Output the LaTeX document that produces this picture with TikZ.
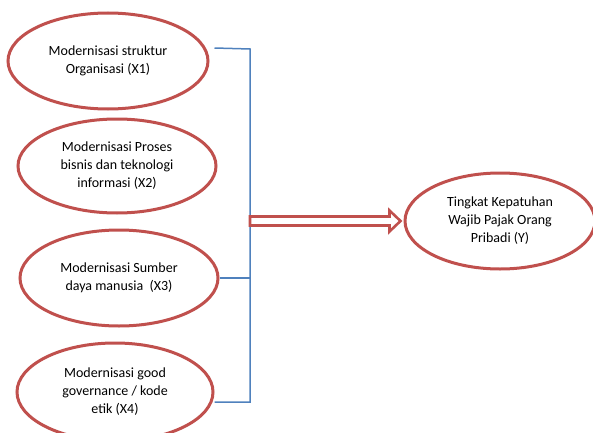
\documentclass[tikz,border=0pt]{standalone}
\usepackage{fontspec}
\setmainfont{Carlito}
\usetikzlibrary{shapes.geometric,calc}
\definecolor{ered}{RGB}{192,80,77}
\definecolor{eblue}{RGB}{79,129,189}
\begin{document}
\begin{tikzpicture}[x=1pt,y=1pt,
  oval/.style={ellipse,draw=ered,line width=3pt,fill=white,inner sep=0pt,align=center,
    font=\fontsize{14}{18}\selectfont},
  link/.style={draw=eblue,line width=1.5pt},
  bigarrow/.style={draw=ered,line width=2.6pt,fill=white,line join=miter}]
\useasboundingbox (0,0) rectangle (593,432);
\node[oval,minimum width=200,minimum height=96] (X1) at (108,371) {Modernisasi struktur\\Organisasi (X1)};
\node[oval,minimum width=198,minimum height=94] (X2) at (117,266) {Modernisasi Proses\\bisnis dan teknologi\\informasi (X2)};
\node[oval,minimum width=198,minimum height=96] (X3) at (119,154) {Modernisasi Sumber\\daya manusia\ \ (X3)};
\node[oval,minimum width=196,minimum height=98] (X4) at (115,40) {Modernisasi good\\governance / kode\\etik (X4)};
\node[oval,minimum width=190,minimum height=96] (Y) at (500,211) {Tingkat Kepatuhan\\Wajib Pajak Orang\\Pribadi (Y)};
\coordinate (btop) at (250,383);
\coordinate (bbot) at (250,30);
\coordinate (j) at (250,211);
\draw[link] ($(X1.east)+(5,13)$) -- (btop) -- (bbot) -- (bbot -| X4.east);
\draw[link] ($(X2.east)+(0,-2)$) -- ($(X2.east)+(0,-2)$ -| btop);
\draw[link] (X3.east) -- (X3.east -| btop);
\draw[bigarrow] ($(j)+(0,4.5)$) -- ($(Y.west)+(-14,4.5)$) -- ($(Y.west)+(-14,10.5)$)
  -- ($(Y.west)+(-3,0)$) -- ($(Y.west)+(-14,-10.5)$) -- ($(Y.west)+(-14,-4.5)$)
  -- ($(j)+(0,-4.5)$) -- cycle;
\end{tikzpicture}
\end{document}
